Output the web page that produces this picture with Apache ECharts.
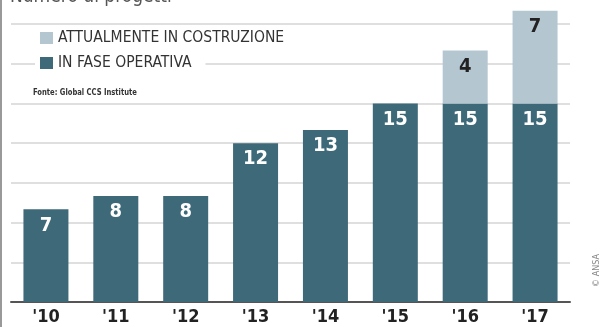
<!DOCTYPE html>
<html>
<head>
<meta charset="utf-8">
<script src="https://cdn.jsdelivr.net/npm/echarts@6/dist/echarts.min.js"></script>
<style>
  html, body { margin: 0; padding: 0; background: #fff; }
  #chart { width: 601px; height: 327px; }
</style>
</head>
<body>
<div id="chart"></div>
<script>
  var years = ["'10", "'11", "'12", "'13", "'14", "'15", "'16", "'17"];
  var operative = [7, 8, 8, 12, 13, 15, 15, 15];
  var building = [null, null, null, null, null, null, 4, 7];
  var yTicks = [0, 3, 6, 9, 12, 15, 18, 21];

  var FONT = '"Liberation Sans Narrow", "DejaVu Sans Condensed", sans-serif';
  var DARK = '#3d6979';
  var LIGHT = '#b4c7d1';

  var chart = echarts.init(document.getElementById('chart'));
  chart.setOption({
    backgroundColor: '#fff',
    animation: false,
    grid: { left: 11, right: 31, top: 24, bottom: 25 },
    legend: [{
      data: ['ATTUALMENTE IN COSTRUZIONE'],
      left: 35, top: 28,
      icon: 'rect', itemWidth: 13, itemHeight: 12, itemGap: 8,
      padding: [2, 8, 2, 5],
      textStyle: { fontFamily: FONT, fontSize: 15.5, color: '#333' }
    }, {
      data: ['IN FASE OPERATIVA'],
      left: 35, top: 53,
      icon: 'rect', itemWidth: 13, itemHeight: 12,
      padding: [2, 14, 2, 5],
      backgroundColor: '#fff',
      textStyle: { fontFamily: FONT, fontSize: 15.5, color: '#333' }
    }],
    xAxis: {
      type: 'category',
      data: years,
      axisLine: { lineStyle: { color: '#555', width: 2 } },
      axisTick: { show: false },
      axisLabel: { fontFamily: FONT, fontSize: 18, fontWeight: 'bold', color: '#222', margin: 6 }
    },
    yAxis: {
      type: 'value',
      min: yTicks[0], max: yTicks[yTicks.length - 1], interval: 3,
      axisLabel: { show: false },
      axisLine: { show: false },
      axisTick: { show: false },
      splitLine: { lineStyle: { color: '#d4d4d4', width: 1.5 } }
    },
    series: [{
      name: 'IN FASE OPERATIVA',
      type: 'bar',
      stack: 'a',
      data: operative,
      barWidth: 45,
      itemStyle: { color: DARK },
      label: {
        show: true, position: 'insideTop', distance: 6,
        fontFamily: FONT, fontSize: 20, fontWeight: 'bold', color: '#fff'
      }
    }, {
      name: 'ATTUALMENTE IN COSTRUZIONE',
      type: 'bar',
      stack: 'a',
      data: building,
      barWidth: 45,
      clip: false,
      itemStyle: { color: LIGHT },
      label: {
        show: true, position: 'insideTop', distance: 6,
        fontFamily: FONT, fontSize: 20, fontWeight: 'bold', color: '#222'
      }
    }],
    graphic: [
      { type: 'text', left: 10, top: -12,
        style: { text: 'Numero di progetti', fontFamily: FONT, fontSize: 19, fill: '#555' } },
      { type: 'text', x: 33, y: 88, scaleX: 0.84,
        style: { text: 'Fonte: Global CCS Institute', fontFamily: FONT, fontSize: 9, fontWeight: 'bold', fill: '#333' } },
      { type: 'text', x: 592, y: 287, rotation: Math.PI / 2,
        style: { text: '\u00a9 ANSA', fontFamily: FONT, fontSize: 9, fill: '#888' } },
      { type: 'line', shape: { x1: 1, y1: 0, x2: 1, y2: 327 },
        style: { stroke: '#999', lineWidth: 2 } }
    ]
  });
</script>
</body>
</html>
